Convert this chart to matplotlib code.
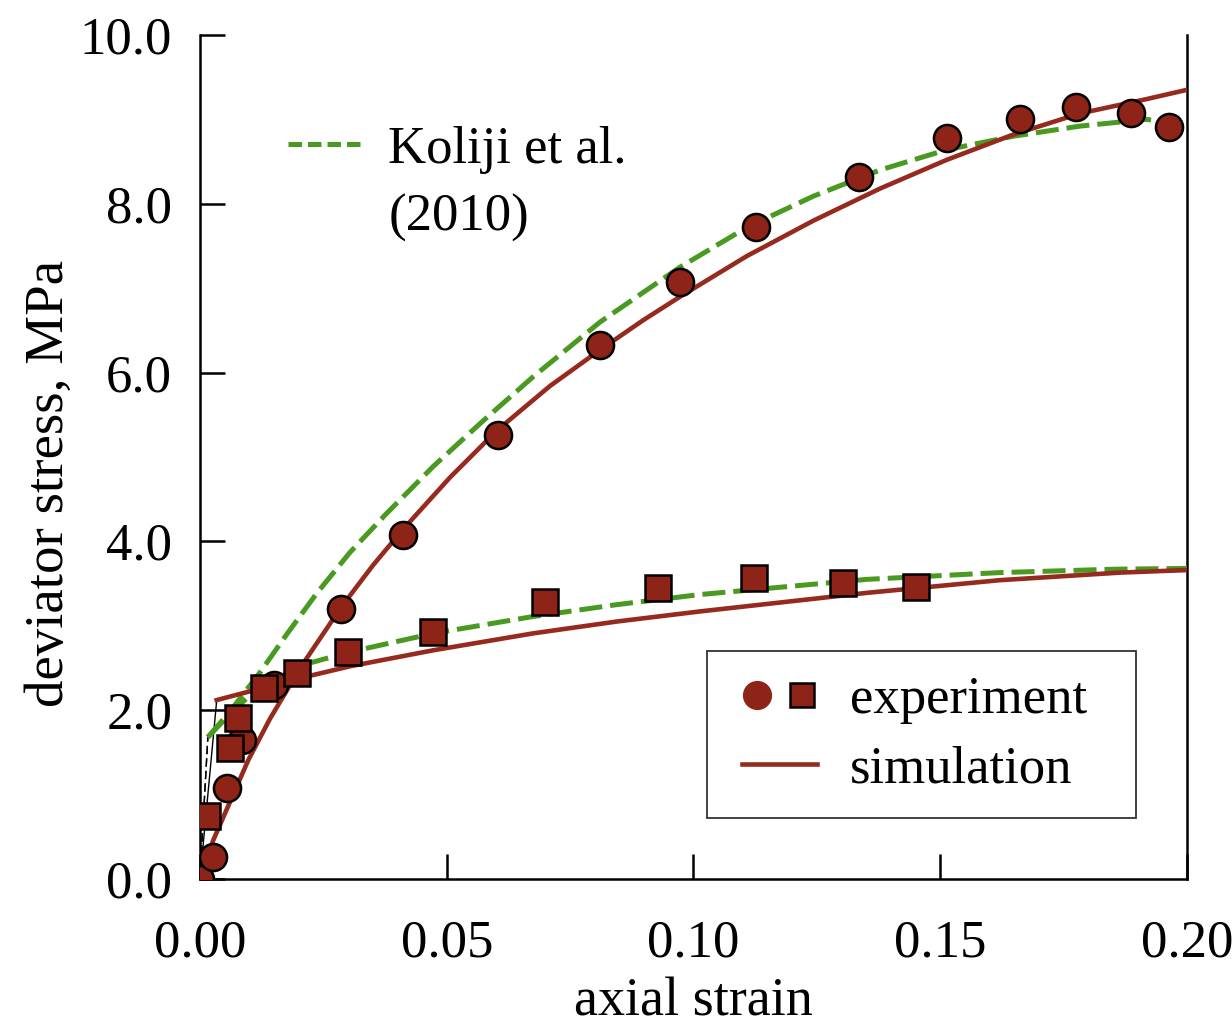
import matplotlib
matplotlib.use("Agg")
import matplotlib.pyplot as plt
from matplotlib.lines import Line2D
from matplotlib.legend_handler import HandlerTuple, HandlerLine2D

plt.rcParams['font.family'] = ['Liberation Serif', 'DejaVu Serif']

# ---- data ----
circ_x = [0.0, 0.0026, 0.0055, 0.0085, 0.015, 0.0286, 0.0411, 0.0603, 0.0811, 0.0973,
          0.1127, 0.1336, 0.1513, 0.1662, 0.1775, 0.1886, 0.1964]
circ_y = [0.0, 0.26, 1.08, 1.65, 2.30, 3.20, 4.07, 5.26, 6.33, 7.07,
          7.73, 8.32, 8.78, 9.00, 9.15, 9.07, 8.91]

sq_x = [0.0014, 0.0060, 0.0077, 0.0130, 0.0197, 0.0300, 0.0472, 0.0700, 0.0928,
        0.1122, 0.1303, 0.1450]
sq_y = [0.75, 1.55, 1.91, 2.26, 2.44, 2.69, 2.93, 3.28, 3.45, 3.57, 3.51, 3.46]

sim_c_x = [0.0, 0.0027, 0.0098, 0.0142, 0.0203, 0.0286, 0.0351, 0.0411, 0.0507, 0.0603,
           0.0709, 0.0811, 0.0898, 0.0973, 0.1108, 0.1243, 0.1378, 0.1513, 0.1648,
           0.1783, 0.1918, 0.2]
sim_c_y = [0.0, 0.46, 1.41, 1.90, 2.50, 3.22, 3.72, 4.14, 4.76, 5.32,
           5.84, 6.27, 6.62, 6.90, 7.38, 7.80, 8.18, 8.52, 8.82,
           9.07, 9.24, 9.35]

sim_s_x = [0.0, 0.0034, 0.0203, 0.0304, 0.0473, 0.0675, 0.0844, 0.1013, 0.1351, 0.162,
           0.1864, 0.2]
sim_s_y = [0.0, 2.12, 2.38, 2.52, 2.71, 2.91, 3.05, 3.17, 3.39, 3.54, 3.63, 3.66]

kol_c_x = [0.0, 0.0016, 0.006, 0.0122, 0.0176, 0.0236, 0.0304, 0.0378, 0.0473, 0.0574,
           0.0675, 0.0811, 0.0973, 0.1108, 0.1243, 0.1378, 0.1513, 0.1648, 0.1783,
           0.1918, 0.1951]
kol_c_y = [0.0, 1.68, 1.98, 2.45, 2.90, 3.38, 3.87, 4.33, 4.89, 5.43,
           5.95, 6.60, 7.25, 7.72, 8.09, 8.40, 8.64, 8.80, 8.92,
           9.00, 8.97]

kol_s_x = [0.0, 0.0016, 0.006, 0.012, 0.0223, 0.0304, 0.0473, 0.0675, 0.0844, 0.1013,
           0.1351, 0.162, 0.185, 0.2]
kol_s_y = [0.0, 1.68, 1.95, 2.28, 2.56, 2.69, 2.91, 3.11, 3.25, 3.37,
           3.55, 3.63, 3.67, 3.68]

xticks = [0.00, 0.05, 0.10, 0.15, 0.20]
yticks = [0.0, 2.0, 4.0, 6.0, 8.0, 10.0]

RED = '#8e2418'
REDL = '#962a1e'
GREEN = '#4a9a22'
FS = 38
DASH = (0, (4.6, 1.6))

fig = plt.figure(figsize=(12.32, 10.34), dpi=100)
ax = fig.add_axes([0.1623, 0.1499, 0.8012, 0.8163])

# initial thin black segments
ax.plot(sim_s_x[:2], sim_s_y[:2], color='black', lw=1.0, zorder=2)
ax.plot(kol_c_x[:2], kol_c_y[:2], color='black', lw=1.0, ls=(0, (6, 3)), zorder=2)
ax.plot(kol_s_x[:2], kol_s_y[:2], color='black', lw=1.0, ls=(0, (6, 3)), zorder=2)

# curves
ax.plot(kol_c_x[1:], kol_c_y[1:], color=GREEN, lw=3.6, ls=DASH, zorder=3)
ax.plot(kol_s_x[1:], kol_s_y[1:], color=GREEN, lw=3.6, ls=DASH, zorder=3)
ax.plot(sim_c_x, sim_c_y, color=REDL, lw=3.3, zorder=3, solid_joinstyle='round')
ax.plot(sim_s_x[1:], sim_s_y[1:], color=REDL, lw=3.3, zorder=3, solid_joinstyle='round')

# markers
ax.plot(circ_x, circ_y, ls='none', marker='o', ms=19.5, mfc=RED, mec='black', mew=1.8, zorder=4)
ax.plot(sq_x, sq_y, ls='none', marker='s', ms=18.5, mfc=RED, mec='black', mew=1.8, zorder=5)

ax.set_xlim(0, 0.2)
ax.set_ylim(0, 10)
ax.set_xticks(xticks)
ax.set_xticklabels([f'{v:.2f}' for v in xticks])
ax.set_yticks(yticks)
ax.set_yticklabels([f'{v:.1f}' for v in yticks])
ax.tick_params(axis='both', direction='in', length=18, width=1.8, labelsize=FS)
ax.tick_params(axis='x', pad=29)
ax.tick_params(axis='y', pad=20)
for s in ['left', 'bottom', 'right']:
    ax.spines[s].set_linewidth(1.8)
ax.spines['top'].set_visible(False)

ax.set_xlabel('axial strain', fontsize=39, labelpad=7)
ax.set_ylabel('deviator stress, MPa', fontsize=39.5)
ax.yaxis.set_label_coords(-0.127, 0.469)

# Koliji legend
h_k = Line2D([], [], color=GREEN, lw=3.6, ls=(0, (2.7, 1.2)))
h_none = Line2D([], [], color='none')
leg1 = ax.legend([h_k, h_none], ['Koliji et al.', '(2010)'], loc='upper left',
                 bbox_to_anchor=(0.0892, 0.8925), frameon=False, fontsize=FS,
                 handlelength=1.45, handletextpad=0.45, labelspacing=0.38,
                 borderpad=0, borderaxespad=0)
ax.add_artist(leg1)

# experiment / simulation legend
h_c = Line2D([], [], ls='none', marker='o', ms=20, mfc=RED, mec=RED)
h_s = Line2D([], [], ls='none', marker='s', ms=17, mfc=RED, mec='black', mew=1.8)
h_l = Line2D([], [], color=REDL, lw=3.3)
leg2 = ax.legend([(h_c, h_s), h_l], ['experiment', 'simulation'],
                 handler_map={tuple: HandlerTuple(ndivide=None, pad=0.3, xpad=0.19),
                              Line2D: HandlerLine2D(xpad=0.19)},
                 loc='lower left', bbox_to_anchor=(0.5137, 0.0723, 0.4347, 0.2),
                 mode='expand', fontsize=FS,
                 fancybox=False, edgecolor='#333333', framealpha=1,
                 handlelength=1.61, handletextpad=0.62, labelspacing=0.40,
                 borderpad=0.47, borderaxespad=0)
leg2.get_frame().set_linewidth(1.3)

fig.savefig('out.png', dpi=100)
